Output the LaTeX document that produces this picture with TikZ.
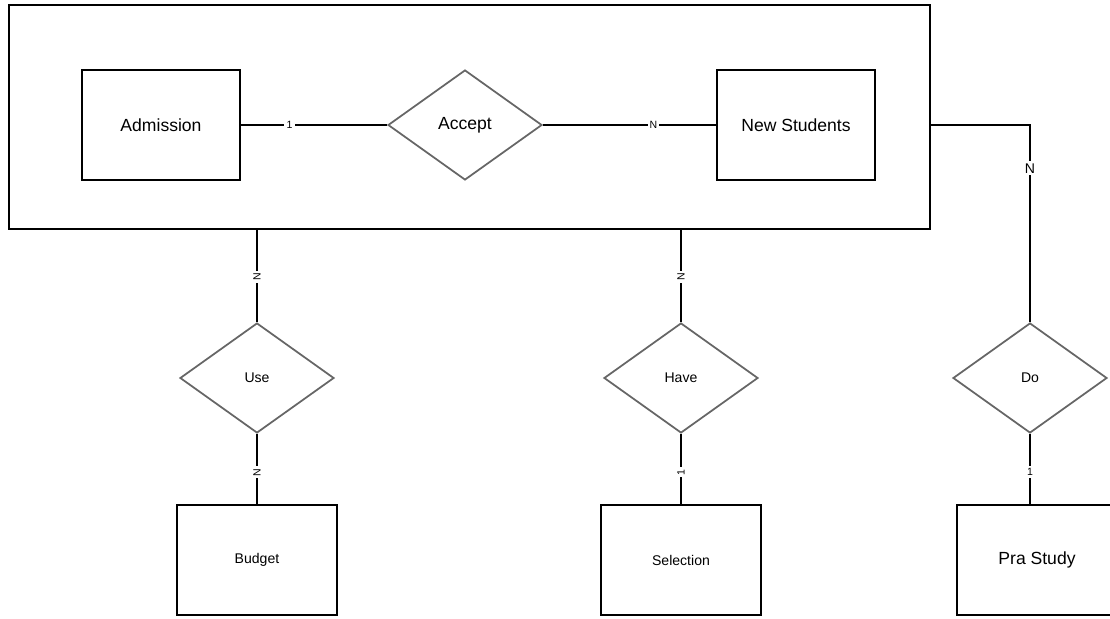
\documentclass[tikz,border=0pt]{standalone}
\usepackage{fontspec}
\setmainfont{Liberation Sans}
\usetikzlibrary{shapes.geometric}

\tikzset{
  entity/.style={draw=black,line width=1.6pt,minimum width=3.16cm,minimum height=2.2cm,inner sep=0pt,font=\fontsize{10}{12}\selectfont},
  lowentity/.style={entity,minimum width=3.2cm,font=\fontsize{8}{10}\selectfont},
  relation/.style={draw=black!60,line width=1pt,shape=diamond,aspect=1.4,minimum width=3.08cm,minimum height=2.2cm,inner sep=0pt,font=\fontsize{8}{10}\selectfont},
  card/.style={fill=white,inner sep=1.2pt,font=\fontsize{6}{7}\selectfont},
  link/.style={line width=1.6pt}
}

\begin{document}
\begin{tikzpicture}[x=0.02cm,y=-0.02cm]
        \useasboundingbox (0,0) rectangle (1110,619);
        \clip (0,0) rectangle (1110,619);
        % aggregation box round the top relationship
        \node[entity,minimum width=18.42cm,minimum height=4.48cm] (agg) at (469.5,117) {};
        \node[entity] (adm) at (161,125) {Admission};
        \node[relation,font=\fontsize{10}{12}\selectfont] (acc) at (465,125) {Accept};
        \node[entity] (nst) at (796,125) {New Students};
        \draw[link] (adm) -- node[card,pos=0.33]{1} (acc);
        \draw[link] (acc) -- node[card,pos=0.64]{N} (nst);
        % relationships below
        \node[relation] (use) at (257,378) {Use};
        \node[relation] (hav) at (681,378) {Have};
        \node[relation] (do) at (1030,378) {Do};
        \node[lowentity] (bud) at (257,560) {Budget};
        \node[lowentity] (sel) at (681,560) {Selection};
        \node[lowentity,font=\fontsize{10}{12}\selectfont] (pra) at (1037,560) {Pra Study};
        \draw[link] (agg.south -| use.north) -- node[card,pos=0.51,rotate=90]{N} (use.north);
        \draw[link] (use.south) -- node[card,pos=0.55,rotate=90]{N} (bud.north -| use.south);
        \draw[link] (agg.south -| hav.north) -- node[card,pos=0.51,rotate=90]{N} (hav.north);
        \draw[link] (hav.south) -- node[card,pos=0.55,rotate=90]{1} (sel.north -| hav.south);
        \draw[link] (agg.east |- nst) -| node[card,pos=0.61,font=\fontsize{8}{10}\selectfont]{N} (do.north);
        \draw[link] (do.south) -- node[card,pos=0.55]{1} (pra.north -| do.south);
      \end{tikzpicture}
\end{document}
